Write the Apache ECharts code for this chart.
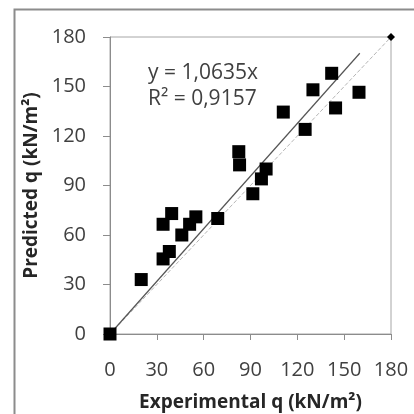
<!DOCTYPE html>
<html>
<head>
<meta charset="utf-8">
<script src="https://cdn.jsdelivr.net/npm/echarts@6/dist/echarts.min.js"></script>
<style>
  html, body { margin: 0; padding: 0; background: #fff; }
  #chart { width: 414px; height: 414px; }
</style>
</head>
<body>
<div id="chart"></div>
<script>
// measured q vs predicted q (kN/m2)
const experimental = [0, 20, 34, 38, 34, 39.5, 46, 51, 55, 69, 82.5, 83, 100, 97, 91.5, 111, 125, 130, 142, 144.5, 159.5]
const predicted = [0, 33, 45.5, 50, 66.5, 73, 60, 66.5, 71, 70, 110.5, 102.5, 100, 94, 85, 134.5, 124, 148, 158, 137, 146.5]
const axisTicks = [0, 30, 60, 90, 120, 150, 180]

const slope = 1.0635
const trendRange = [0, 160]
const equalityRange = [0, 180]

const chart = echarts.init(document.getElementById('chart'))

const labelFont = { color: '#404040', fontSize: 20, fontFamily: 'Open Sans' }
const nameFont = { color: '#262626', fontSize: 19, fontWeight: 'bold', fontFamily: 'Open Sans' }

const option = {
  animation: false,
  backgroundColor: '#fff',
  grid: {
    left: 110,
    right: 23,
    top: 37,
    bottom: 80,
    outerBoundsMode: 'none',
    show: true,
    borderColor: '#a6a6a6',
    borderWidth: 1
  },
  xAxis: {
    type: 'value',
    min: axisTicks[0],
    max: axisTicks[axisTicks.length - 1],
    interval: 30,
    name: 'Experimental q (kN/m²)',
    nameLocation: 'middle',
    nameGap: 59,
    nameTextStyle: nameFont,
    axisLine: { lineStyle: { color: '#8c8c8c' } },
    axisTick: { show: true, inside: false, length: 6, lineStyle: { color: '#8c8c8c' } },
    axisLabel: { ...labelFont, margin: 26 },
    splitLine: { show: false }
  },
  yAxis: {
    type: 'value',
    min: axisTicks[0],
    max: axisTicks[axisTicks.length - 1],
    interval: 30,
    name: 'Predicted q (kN/m²)',
    nameLocation: 'middle',
    nameGap: 55,
    nameTextStyle: nameFont,
    axisLine: { show: true, lineStyle: { color: '#8c8c8c' } },
    axisTick: { show: true, inside: false, length: 7, lineStyle: { color: '#8c8c8c' } },
    axisLabel: { ...labelFont, margin: 24 },
    splitLine: { show: false }
  },
  graphic: [
    {
      type: 'rect',
      shape: { x: 14.5, y: 9.5, width: 420, height: 420 },
      style: { fill: 'none', stroke: '#8c8c8c', lineWidth: 2 },
      silent: true
    },
    {
      type: 'text',
      left: 148,
      top: 63,
      style: { text: 'y = 1,0635x', fill: '#404040', fontSize: 21, fontFamily: 'Open Sans' }
    },
    {
      type: 'text',
      left: 148,
      top: 89,
      style: { text: 'R² = 0,9157', fill: '#404040', fontSize: 21, fontFamily: 'Open Sans' }
    }
  ],
  series: [
    {
      type: 'line',
      data: [
        { value: [equalityRange[0], equalityRange[0]], symbol: 'none' },
        { value: [equalityRange[1], equalityRange[1]], symbol: 'diamond', symbolSize: 8 }
      ],
      lineStyle: { color: '#b5b5b5', width: 1, type: [4, 2] },
      itemStyle: { color: '#000' },
      z: 1
    },
    {
      type: 'line',
      data: trendRange.map(x => [x, x * slope]),
      symbol: 'none',
      lineStyle: { color: '#555', width: 1.2 },
      z: 2
    },
    {
      type: 'scatter',
      data: experimental.map((x, i) => [x, predicted[i]]),
      symbol: 'rect',
      symbolSize: 13,
      itemStyle: { color: '#000', opacity: 1 },
      z: 3
    }
  ]
}

chart.setOption(option)
window.addEventListener('resize', () => chart.resize())
</script>
</body>
</html>
